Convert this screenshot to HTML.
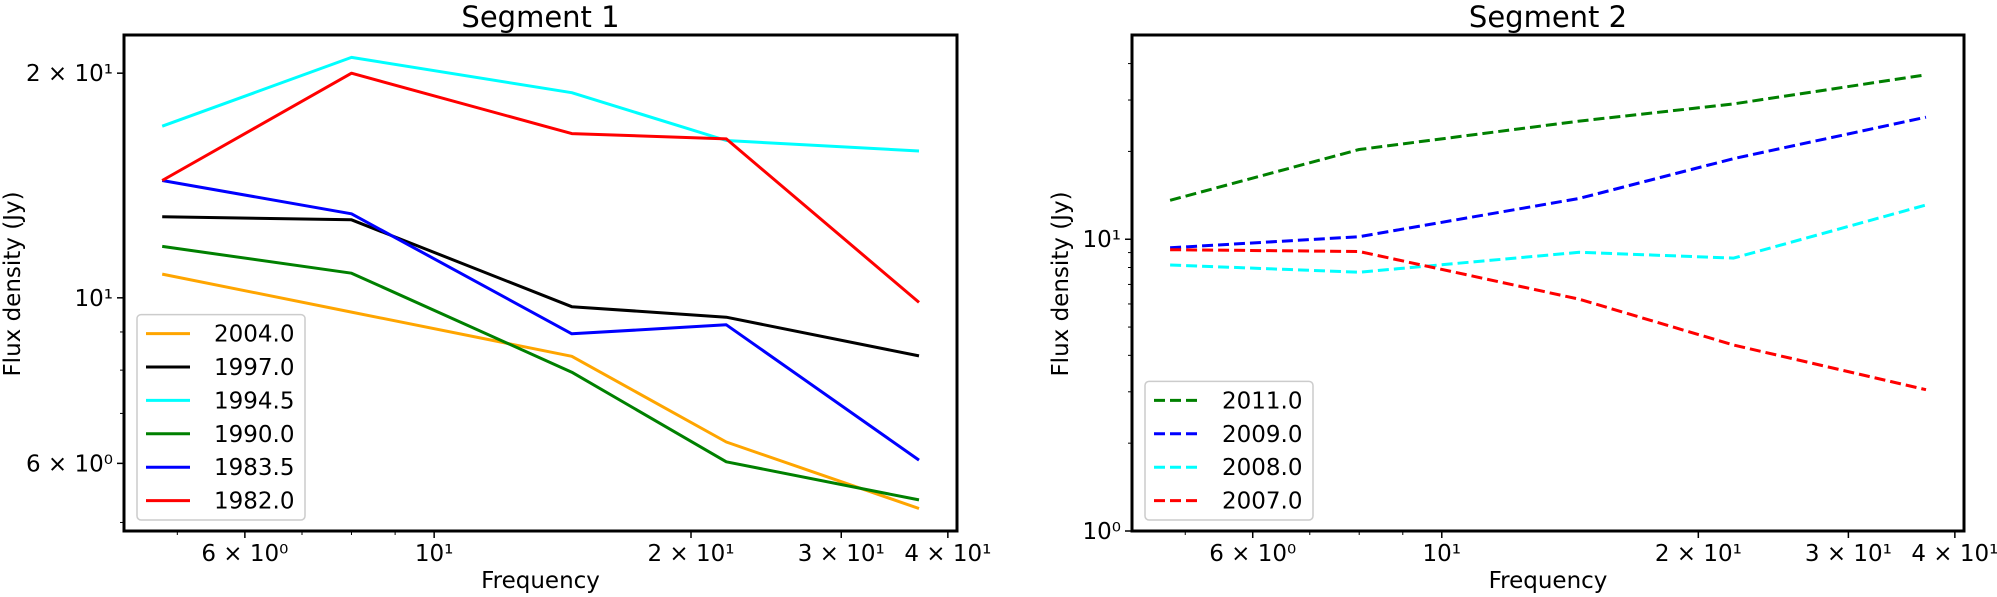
<!DOCTYPE html>
<html><head><meta charset="utf-8">
<style>
html,body{margin:0;padding:0;background:#fff;}
svg{display:block;font-family:"DejaVu Sans","Liberation Sans",sans-serif;}
</style></head>
<body>
<svg id="fig" width="1997" height="597" viewBox="0 0 1997 597" xmlns="http://www.w3.org/2000/svg"></svg>
<script>
const freqs = [4.8, 8.0, 14.5, 22, 37];
const seg1Labels = ['2004.0','1997.0','1994.5','1990.0','1983.5','1982.0'];
const seg1Colors = ['orange','black','cyan','green','blue','red'];
const s1_2004 = [10.76, 9.57, 8.35, 6.41, 5.22];
const s1_1997 = [12.84, 12.72, 9.73, 9.42, 8.36];
const s1_1994 = [16.98, 21.0, 18.83, 16.25, 15.73];
const s1_1990 = [11.72, 10.79, 7.95, 6.03, 5.36];
const s1_1983 = [14.36, 12.96, 8.95, 9.2, 6.06];
const s1_1982 = [14.36, 20.0, 16.6, 16.33, 9.86];
const seg2Labels = ['2011.0','2009.0','2008.0','2007.0'];
const seg2Colors = ['green','blue','cyan','red'];
const s2_2011 = [13.6, 20.3, 25.4, 29.1, 36.6];
const s2_2009 = [9.35, 10.2, 13.8, 18.9, 26.2];
const s2_2008 = [8.16, 7.71, 9.02, 8.62, 13.1];
const s2_2007 = [9.21, 9.08, 6.23, 4.34, 3.05];
const xTickVals = [6, 10, 20, 30, 40];
const xTickText = ['6 × 10⁰','10¹','2 × 10¹','3 × 10¹','4 × 10¹'];
const xMinor = [5, 7, 8, 9];
const y1TickVals = [6, 10, 20];
const y1TickText = ['6 × 10⁰','10¹','2 × 10¹'];
const y1Minor = [5, 7, 8, 9];
const y2TickVals = [1, 10];
const y2TickText = ['10⁰','10¹'];
const y2Minor = [2,3,4,5,6,7,8,9,20,30,40];

const NS='http://www.w3.org/2000/svg';
const svg=document.getElementById('fig');
function mk(tag,attrs,parent){const e=document.createElementNS(NS,tag);for(const k in attrs)e.setAttribute(k,attrs[k]);(parent||svg).appendChild(e);return e;}

function panel(cfg){
  const g=mk('g',{});
  
  
  const L=cfg.x0,R=cfg.x1,T=35,B=531;
  const xmin=Math.log10(4.33),xmax=Math.log10(41.0);
  const X=v=>L+(Math.log10(v)-xmin)/(xmax-xmin)*(R-L);
  const Y=v=>B-(Math.log10(v)-cfg.ymin)/(cfg.ymax-cfg.ymin)*(B-T);
  const t=mk('text',{x:(L+R)/2,y:27,'text-anchor':'middle','font-size':29},g);
  t.textContent=cfg.title;
  
  
  // series
  cfg.series.forEach((s,i)=>{
    const d=freqs.map((f,j)=>(j?'L':'M')+X(f).toFixed(1)+' '+Y(s[j]).toFixed(1)).join(' ');
    const p=mk('path',{d:d,fill:'none',stroke:cfg.colors[i],'stroke-width':3,'stroke-linejoin':'round'},g);
    if(cfg.dashed)p.setAttribute('stroke-dasharray','11 5');
    
    
  });
  // ticks
  xTickVals.forEach((v,i)=>{
    mk('line',{x1:X(v),x2:X(v),y1:B,y2:B+7,stroke:'#000','stroke-width':1.5},g);
    const tx=mk('text',{x:X(v),y:561,'text-anchor':'middle','font-size':23},g);
    tx.textContent=xTickText[i];
    
    
  });
  xMinor.forEach(v=>mk('line',{x1:X(v),x2:X(v),y1:B,y2:B+4,stroke:'#000','stroke-width':1},g));
  cfg.yTicks.forEach((v,i)=>{
    mk('line',{x1:L-7,x2:L,y1:Y(v),y2:Y(v),stroke:'#000','stroke-width':1.5},g);
    const ty=mk('text',{x:L-11,y:Y(v)+8,'text-anchor':'end','font-size':23},g);
    ty.textContent=cfg.yTickText[i];
    
    
  });
  cfg.yMinor.forEach(v=>{const y=Y(v);if(y>T&&y<B)mk('line',{x1:L-4,x2:L,y1:y,y2:y,stroke:'#000','stroke-width':1},g);});
  mk('rect',{x:L,y:T,width:R-L,height:B-T,fill:'none',stroke:'#000','stroke-width':3},g);
  const xl=mk('text',{x:(L+R)/2,y:588,'text-anchor':'middle','font-size':23},g);
  xl.textContent='Frequency';
  
  
  const yl=mk('text',{x:0,y:0,'text-anchor':'middle','font-size':23,transform:`translate(${cfg.ylabX},284) rotate(-90)`},g);
  yl.textContent='Flux density (Jy)';
  
  
  // legend
  const n=cfg.labels.length;
  const lx=L+13, ly=519-n*33.4-4;
  const lg=mk('g',{},g);
  
  
  mk('rect',{x:lx,y:ly,width:168,height:n*33.4+5,rx:4,fill:'#fff','fill-opacity':0.8,stroke:'#ccc','stroke-width':1.5},lg);
  cfg.labels.forEach((lab,i)=>{
    const cy=ly+19+i*33.4;
    const ll=mk('line',{x1:lx+9,x2:lx+53,y1:cy,y2:cy,stroke:cfg.colors[i],'stroke-width':3},lg);
    if(cfg.dashed)ll.setAttribute('stroke-dasharray','11 5');
    const lt=mk('text',{x:lx+77,y:cy+8,'font-size':23},lg);
    lt.textContent=lab;
    
    
  });
}
panel({name:'segment-1-chart',title:'Segment 1',x0:124,x1:957,ymin:Math.log10(4.87),ymax:Math.log10(22.5),
  series:[s1_2004,s1_1997,s1_1994,s1_1990,s1_1983,s1_1982],labels:seg1Labels,colors:seg1Colors,dashed:false,
  yTicks:y1TickVals,yTickText:y1TickText,yMinor:y1Minor,ylabX:20});
panel({name:'segment-2-chart',title:'Segment 2',x0:1132,x1:1964,ymin:0,ymax:1.70,
  series:[s2_2011,s2_2009,s2_2008,s2_2007],labels:seg2Labels,colors:seg2Colors,dashed:true,
  yTicks:y2TickVals,yTickText:y2TickText,yMinor:y2Minor,ylabX:1068});
</script>
</body></html>
